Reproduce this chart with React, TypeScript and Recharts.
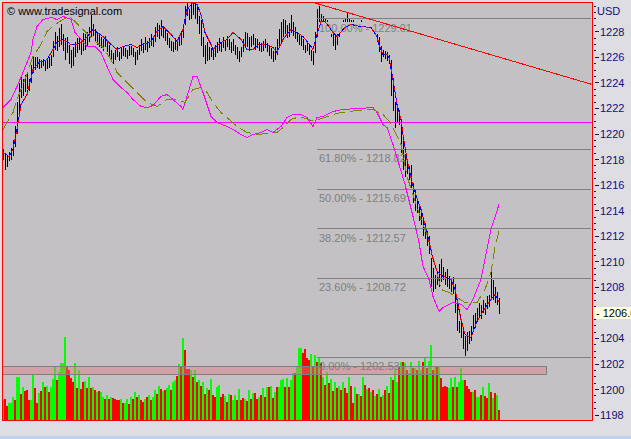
import {
  ComposedChart, Bar, Line, XAxis, YAxis, Cell, CartesianGrid,
  ReferenceLine, ReferenceArea,
} from 'recharts';

// one slot per 30 min bar, the right part of the axis is empty future time
const SLOTS = 295;

const lows = [
  1218.0, 1217.2, 1217.4, 1217.9, 1218.0, 1218.3, 1219.0, 1220.0, 1221.7, 1222.8,
  1223.0, 1223.3, 1223.5, 1223.4, 1224.0, 1224.8, 1225.0, 1225.2, 1225.1, 1225.2,
  1225.3, 1224.9, 1225.1, 1225.2, 1225.3, 1226.0, 1226.6, 1226.5, 1226.8, 1227.0,
  1226.5, 1225.8, 1226.3, 1225.5, 1225.2, 1225.3, 1226.0, 1226.3, 1226.6, 1226.2,
  1226.5, 1226.6, 1226.8, 1227.2, 1227.6, 1227.7, 1227.2, 1227.0, 1226.8, 1226.7,
  1226.5, 1226.8, 1226.4, 1226.0, 1225.8, 1225.5, 1225.8, 1226.0, 1225.7, 1225.9,
  1226.1, 1226.0, 1225.9, 1226.1, 1226.2, 1226.0, 1225.4, 1225.8, 1226.2, 1226.5,
  1226.3, 1226.6, 1226.4, 1226.7, 1226.9, 1226.8, 1227.2, 1227.6, 1227.4, 1227.7,
  1227.5, 1227.3, 1227.0, 1226.7, 1226.5, 1226.4, 1226.6, 1226.5, 1226.9, 1227.0,
  1227.5, 1228.5, 1229.2, 1228.9, 1229.0, 1229.3, 1229.0, 1228.6, 1227.8, 1226.9,
  1226.0, 1225.5, 1225.7, 1225.8, 1226.0, 1225.8, 1226.0, 1226.3, 1226.5, 1226.4,
  1226.7, 1226.5, 1226.8, 1226.6, 1226.3, 1226.5, 1226.2, 1225.9, 1225.6, 1226.0,
  1226.4, 1226.7, 1226.8, 1226.5, 1226.8, 1227.0, 1226.6, 1226.7, 1226.5, 1226.4,
  1226.5, 1226.7, 1226.4, 1226.1, 1225.9, 1225.6, 1225.8, 1226.2, 1226.9, 1227.3,
  1227.6, 1227.8, 1227.5, 1227.6, 1227.9, 1227.7, 1227.4, 1227.2, 1227.0, 1226.9,
  1226.6, 1226.3, 1226.5, 1226.2, 1225.7, 1225.4, 1226.3, 1227.6, 1228.2, 1228.4,
  1228.3, 1228.1, 1228.2, 1227.9, 1227.6, 1226.9, 1226.6, 1227.0, 1227.6, 1228.0,
  1228.1, 1228.2, 1228.4, 1228.3, 1228.1, 1228.2, 1228.1, 1228.0, 1228.1, 1228.2,
  1228.1, 1228.0, 1228.0, 1228.1, 1228.0, 1227.9, 1227.8, 1227.2, 1226.4, 1225.6,
  1226.0, 1225.9, 1225.7, 1225.5, 1223.0, 1221.8, 1220.5, 1220.9, 1220.7, 1218.5,
  1217.2, 1216.6, 1216.9, 1216.4, 1215.8, 1214.6, 1214.0, 1213.8, 1213.2, 1212.9,
  1212.0, 1211.8, 1211.2, 1210.6, 1208.0, 1207.6, 1207.9, 1208.2, 1208.0, 1208.4,
  1208.6, 1208.2, 1208.0, 1207.9, 1207.6, 1207.5, 1206.0, 1204.6, 1204.4, 1204.0,
  1203.2, 1202.6, 1203.0, 1203.6, 1203.8, 1204.5, 1204.8, 1205.3, 1205.6, 1205.5,
  1206.0, 1205.8, 1206.3, 1206.5, 1207.2, 1207.0, 1206.8, 1206.6, 1205.9,
];

const highs = [
  1218.8, 1218.5, 1218.3, 1218.6, 1218.9, 1219.5, 1220.6, 1222.5, 1224.0, 1224.5,
  1224.3, 1224.6, 1224.8, 1224.3, 1225.4, 1226.0, 1226.0, 1226.0, 1225.9, 1225.8,
  1225.9, 1225.7, 1225.8, 1226.0, 1226.2, 1227.3, 1228.0, 1227.7, 1228.3, 1228.6,
  1227.8, 1227.5, 1227.6, 1227.0, 1226.6, 1226.8, 1227.2, 1227.5, 1227.6, 1227.3,
  1227.9, 1227.8, 1228.0, 1228.4, 1229.3, 1228.6, 1228.2, 1228.0, 1227.9, 1227.6,
  1227.4, 1227.7, 1227.2, 1227.0, 1226.6, 1226.3, 1226.6, 1226.8, 1226.4, 1226.7,
  1226.8, 1226.7, 1226.6, 1226.9, 1226.9, 1226.7, 1226.4, 1226.6, 1227.0, 1227.4,
  1227.1, 1227.6, 1227.3, 1227.5, 1227.8, 1227.6, 1228.4, 1228.7, 1228.5, 1228.9,
  1228.4, 1228.2, 1227.9, 1227.5, 1227.3, 1227.2, 1227.5, 1227.2, 1227.6, 1227.9,
  1228.5, 1230.0, 1230.3, 1229.8, 1230.1, 1230.3, 1230.3, 1229.9, 1229.2, 1228.9,
  1227.6, 1227.0, 1227.2, 1226.8, 1226.7, 1226.6, 1227.0, 1227.2, 1227.5, 1227.2,
  1227.6, 1227.3, 1227.7, 1227.4, 1227.2, 1227.4, 1227.0, 1226.8, 1226.5, 1226.8,
  1227.4, 1228.0, 1227.9, 1227.6, 1227.7, 1227.8, 1227.5, 1227.4, 1227.2, 1227.1,
  1227.3, 1227.4, 1227.1, 1226.9, 1226.7, 1226.5, 1226.8, 1227.4, 1228.2, 1228.8,
  1229.0, 1228.9, 1228.5, 1228.7, 1229.3, 1228.8, 1228.4, 1228.0, 1227.8, 1227.7,
  1227.4, 1227.0, 1227.3, 1227.0, 1226.6, 1226.5, 1228.0, 1229.8, 1230.0, 1229.4,
  1229.2, 1229.0, 1228.9, 1228.7, 1228.5, 1228.2, 1227.8, 1228.0, 1228.4, 1228.8,
  1228.9, 1229.0, 1229.5, 1229.1, 1228.9, 1228.9, 1228.8, 1228.7, 1228.8, 1228.9,
  1228.8, 1228.7, 1228.6, 1228.7, 1228.6, 1228.5, 1228.4, 1228.1, 1227.6, 1226.9,
  1226.6, 1226.5, 1226.4, 1226.2, 1225.8, 1224.4, 1222.5, 1222.0, 1221.9, 1220.8,
  1219.5, 1218.4, 1218.0, 1217.5, 1217.6, 1216.2, 1215.6, 1215.0, 1214.5, 1213.9,
  1213.3, 1213.0, 1212.4, 1212.0, 1210.3, 1209.5, 1209.0, 1209.3, 1209.8, 1210.2,
  1209.6, 1209.2, 1209.4, 1208.9, 1208.7, 1208.8, 1208.3, 1206.6, 1205.4, 1205.2,
  1204.8, 1204.2, 1204.5, 1204.6, 1205.0, 1205.8, 1206.0, 1206.4, 1206.8, 1206.6,
  1207.0, 1206.8, 1207.3, 1207.4, 1209.2, 1208.6, 1208.0, 1207.6, 1207.2,
];

const volumes = [
  20, 21, 14, 17, 17, 23, 20, 43, 43, 26, 33, 29, 30, 20, 20, 46, 32, 17, 27, 29,
  38, 33, 34, 28, 33, 41, 53, 40, 48, 57, 57, 83, 54, 50, 42, 38, 57, 32, 50, 31,
  38, 39, 32, 43, 32, 33, 30, 28, 29, 28, 23, 21, 25, 21, 23, 22, 21, 20, 20, 21,
  17, 17, 21, 16, 23, 21, 28, 23, 25, 20, 18, 21, 23, 25, 20, 23, 30, 26, 34, 31,
  29, 30, 32, 35, 30, 38, 40, 44, 56, 53, 82, 70, 51, 51, 50, 43, 50, 38, 40, 34,
  38, 26, 32, 30, 41, 25, 23, 33, 35, 23, 26, 24, 18, 26, 25, 20, 25, 20, 31, 20,
  22, 21, 19, 30, 21, 27, 27, 21, 23, 25, 32, 23, 33, 33, 34, 22, 28, 33, 33, 40,
  41, 33, 42, 33, 40, 47, 47, 53, 72, 72, 67, 71, 62, 60, 66, 54, 65, 58, 63, 57,
  43, 35, 48, 37, 41, 29, 38, 32, 34, 30, 38, 32, 27, 43, 34, 17, 33, 26, 26, 24,
  43, 35, 31, 32, 28, 30, 24, 26, 31, 23, 25, 30, 34, 27, 43, 40, 50, 38, 53, 58,
  58, 57, 50, 47, 58, 52, 52, 50, 59, 50, 58, 62, 52, 59, 75, 50, 53, 53, 53, 42,
  33, 34, 33, 32, 42, 33, 43, 33, 38, 52, 40, 40, 34, 31, 28, 28, 30, 23, 23, 25,
  33, 24, 22, 37, 28, 22, 27, 25, 10,
];

// 1 = up bar (green), 0 = down bar (red)
const volUp = [
  1, 0, 0, 1, 1, 1, 0, 1, 1, 0, 1, 0, 0, 0, 1, 1, 0, 0, 1, 0,
  1, 0, 1, 0, 1, 1, 1, 0, 1, 1, 1, 1, 0, 0, 0, 0, 1, 0, 1, 0,
  0, 1, 0, 1, 0, 1, 0, 1, 0, 1, 1, 0, 1, 0, 1, 0, 0, 0, 0, 1,
  0, 1, 1, 0, 1, 0, 1, 0, 1, 0, 0, 1, 0, 1, 0, 1, 1, 0, 1, 0,
  1, 0, 1, 1, 0, 1, 1, 0, 1, 0, 1, 0, 0, 0, 1, 0, 1, 0, 1, 0,
  1, 0, 1, 0, 1, 0, 0, 1, 1, 0, 0, 1, 0, 1, 0, 1, 1, 0, 1, 0,
  0, 1, 0, 1, 0, 1, 0, 0, 1, 0, 1, 0, 1, 0, 1, 0, 1, 0, 1, 1,
  1, 0, 1, 0, 1, 1, 0, 1, 1, 1, 0, 0, 0, 0, 1, 0, 1, 0, 1, 0,
  1, 0, 1, 0, 1, 0, 1, 0, 1, 0, 1, 0, 0, 1, 0, 0, 1, 0, 1, 0,
  1, 0, 1, 0, 1, 0, 1, 0, 1, 0, 1, 0, 1, 0, 1, 0, 1, 1, 0, 1,
  0, 1, 0, 1, 1, 0, 1, 0, 1, 1, 0, 1, 0, 1, 1, 0, 1, 0, 1, 0,
  0, 0, 0, 1, 1, 0, 1, 0, 1, 1, 1, 0, 0, 0, 0, 1, 0, 1, 1, 0,
  1, 0, 0, 1, 0, 1, 0, 1, 0,
];

// [slot, value] points of the indicators
const maPts = [
  [0, 1218.56], [3, 1218.24], [5, 1218.79], [7, 1220.36], [9, 1222.31], [12, 1223.09],
  [15, 1225.05], [18, 1225.6], [22, 1225.83], [25, 1226.62], [27, 1227.16], [30, 1227.4],
  [34, 1227.01], [37, 1227.01], [41, 1227.4], [44, 1228.02], [45, 1228.18], [47, 1227.95],
  [50, 1227.63], [54, 1227.01], [57, 1226.62], [60, 1226.85], [64, 1227.01], [67, 1226.77],
  [70, 1227.01], [74, 1227.24], [77, 1228.02], [80, 1228.41], [84, 1227.79], [87, 1227.24],
  [90, 1228.18], [92, 1229.74], [95, 1230.29], [97, 1230.14], [99, 1229.35], [101, 1227.95],
  [104, 1227.01], [105, 1226.62], [109, 1227.16], [112, 1227.4], [115, 1227.95], [119, 1227.4],
  [122, 1226.62], [125, 1226.62], [128, 1227.01], [132, 1227.01], [135, 1226.77], [137, 1226.38],
  [140, 1227.4], [144, 1228.18], [147, 1227.95], [150, 1227.63], [154, 1226.85], [155, 1226.62],
  [157, 1227.79], [159, 1228.81], [161, 1228.81], [165, 1227.95], [167, 1227.63], [171, 1228.34],
  [174, 1228.57], [179, 1228.41], [184, 1228.34], [187, 1227.63], [188, 1227.01], [190, 1226.22],
  [192, 1226.22], [193, 1225.99], [195, 1224.27], [197, 1222.31], [199, 1221.14], [200, 1219.96],
  [202, 1218.01], [205, 1215.9], [209, 1214.1], [212, 1212.3], [215, 1210.19], [217, 1209.25],
  [220, 1208.86], [224, 1208.62], [226, 1207.84], [229, 1205.49], [231, 1204.32], [234, 1204.09],
  [237, 1205.34], [240, 1206.12], [244, 1207.06], [246, 1207.45], [248, 1206.9],
];

const oscPts = [
  [0, 1222.07], [4, 1222.7], [7, 1223.72], [10, 1224.82], [14, 1226.38], [15, 1227.4],
  [17, 1228.41], [20, 1228.96], [24, 1229.12], [27, 1228.96], [30, 1229.2], [34, 1228.96],
  [36, 1227.95], [39, 1227.4], [42, 1226.85], [46, 1226.85], [49, 1226.38], [52, 1225.28],
  [55, 1224.27], [59, 1223.64], [62, 1223.25], [65, 1222.7], [69, 1222.15], [72, 1222.07],
  [75, 1222.23], [79, 1222.94], [82, 1223.09], [85, 1222.7], [89, 1222.15], [90, 1221.92],
  [92, 1222.94], [95, 1224.5], [97, 1224.5], [100, 1223.25], [104, 1221.37], [107, 1220.9],
  [112, 1220.59], [115, 1220.36], [119, 1219.96], [122, 1219.73], [125, 1219.96], [129, 1220.12],
  [132, 1220.36], [135, 1220.12], [139, 1220.59], [142, 1221.29], [145, 1221.53], [149, 1221.53],
  [152, 1221.29], [155, 1220.59], [157, 1221.29], [160, 1221.37], [165, 1221.76], [170, 1221.92],
  [177, 1221.99], [185, 1222.07], [187, 1221.68], [190, 1220.74], [192, 1220.51], [195, 1219.18],
  [198, 1217.62], [201, 1216.06], [205, 1213.55], [208, 1211.51], [210, 1209.64], [213, 1208.62],
  [215, 1207.29], [218, 1206.12], [220, 1206.43], [225, 1206.82], [229, 1206.67], [232, 1206.27],
  [235, 1207.06], [239, 1208.62], [244, 1212.53], [248, 1214.49],
];

const sigPts = [
  [0, 1220.36], [5, 1221.68], [7, 1222.7], [11, 1224.27], [15, 1226.07], [19, 1227.01],
  [22, 1228.02], [26, 1228.57], [30, 1228.96], [33, 1229.2], [36, 1228.81], [40, 1228.18],
  [45, 1227.4], [50, 1226.77], [54, 1225.83], [57, 1224.82], [62, 1224.03], [67, 1223.25],
  [72, 1222.47], [77, 1222.15], [82, 1222.7], [87, 1222.7], [91, 1222.47], [95, 1223.48],
  [99, 1223.64], [102, 1223.25], [105, 1222.47], [109, 1221.68], [112, 1221.29], [117, 1220.59],
  [122, 1220.12], [127, 1219.96], [132, 1220.04], [137, 1220.12], [140, 1220.51], [144, 1221.14],
  [147, 1221.29], [150, 1221.29], [154, 1221.06], [158, 1221.14], [165, 1221.53], [169, 1221.68],
  [177, 1221.84], [185, 1221.92], [187, 1221.76], [190, 1221.53], [194, 1220.82], [199, 1219.18],
  [202, 1216.68], [205, 1215.27], [209, 1213.31], [212, 1212.14], [215, 1210.42], [219, 1207.84],
  [223, 1207.6], [227, 1207.21], [231, 1206.82], [237, 1206.82], [241, 1207.84], [244, 1209.17],
  [246, 1211.2], [248, 1212.37],
];

const fibLevels = [
  { pct: '100.00%', value: 1229.01 },
  { pct: '61.80%', value: 1218.82 },
  { pct: '50.00%', value: 1215.69 },
  { pct: '38.20%', value: 1212.57 },
  { pct: '23.60%', value: 1208.72 },
  { pct: '0.00%', value: 1202.53 },
];
const fibStart = 157;

const timeTicks: [number, string][] = [
  [0, ''], [5, ''], [14, '20:00'], [23, ''], [32, '29'], [36, ''], [45, ''], [54, '10:00'],
  [64, ''], [73, '20:00'], [91, 'Okt'], [95, ''], [104, ''], [114, '10:00'], [122, ''],
  [131, '20:00'], [140, ''], [150, '4'], [154, ''], [163, ''], [172, '10:00'], [181, ''],
  [190, '20:00'], [208, '5'], [211, ''], [221, ''], [231, '10:00'], [240, ''], [248, ''],
  [265, '20:00'],
];

const priceDomain = [1197.62, 1230.33];
const priceTicks = Array.from({ length: 65 }, (_, k) => 1198 + k * 0.5);
const lastPrice = 1206.0;
const oscLevel = 1220.93;
const zone = { from: 0, to: 271, low: 1201.16, high: 1201.79 };
const trend = [{ x: 155, y: 1230.3 }, { x: 294, y: 1223.9 }];

const NAVY = '#10107a';
const FONT = "'Liberation Sans', Arial, sans-serif";
const PLOT_BG = '#c3c1c4';

const rows = Array.from({ length: SLOTS }, (_, i) => ({
  i,
  hl: i < lows.length ? [lows[i], highs[i]] : null,
  vol: i < volumes.length ? volumes[i] : null,
  ma: null as number | null,
  osc: null as number | null,
  sig: null as number | null,
}));
maPts.forEach(([i, v]) => { rows[i].ma = v; });
oscPts.forEach(([i, v]) => { rows[i].osc = v; });
sigPts.forEach(([i, v]) => { rows[i].sig = v; });

const tickText = new Map(timeTicks);

const TimeTick = (props: any) => {
  const { x, y, payload } = props;
  const label = tickText.get(payload.value) || '';
  return (
    <g>
      {payload.value < volumes.length && (
        <line x1={x} x2={x} y1={y + 1} y2={y + (label ? 7 : 4)} stroke={NAVY} />
      )}
      {label && (
        <text x={x + 1} y={y + 19} fill={NAVY} fontSize={11} fontFamily={FONT}>{label}</text>
      )}
    </g>
  );
};

const PriceTick = (props: any) => {
  const { x, y, payload } = props;
  const v = payload.value;
  // the last price box takes the place of its own label
  if (v === lastPrice) return null;
  const major = v % 2 === 0 && v <= 1228;
  return (
    <g>
      <line x1={x + (major ? 3 : 2)} x2={x + (major ? 7 : 4)} y1={y} y2={y} stroke={NAVY} />
      {major && (
        <text x={x + 8} y={y + 4} fill={NAVY} fontSize={11} fontFamily={FONT}>{v}</text>
      )}
    </g>
  );
};

const FibLabel = (props: any) => {
  const { viewBox, text, solid } = props;
  return (
    <g>
      {solid && <rect x={viewBox.x + 1} y={viewBox.y + 3} width={92} height={12} fill={PLOT_BG} />}
      <text x={viewBox.x + 2} y={viewBox.y + 13} fill="#808080" fontSize={11} fontFamily={FONT}>{text}</text>
    </g>
  );
};

const LastLabel = (props: any) => {
  const { viewBox } = props;
  const left = viewBox.x + viewBox.width + 1;
  return (
    <g>
      <rect x={left} y={viewBox.y - 6} width={40} height={12} fill="#ffffe1" />
      <text x={left + 3} y={viewBox.y + 4} fill="#000" fontSize={11} fontFamily={FONT}>
        {'- ' + lastPrice.toFixed(1)}
      </text>
    </g>
  );
};

export default function App() {
  return (
    <div style={{ position: 'relative', width: 631, height: 439, background: '#dedde2', overflow: 'hidden' }}>
      <style>{'body{margin:0} .chart svg line, .chart svg path, .chart svg rect{shape-rendering:crispEdges}'}</style>
      <div className="chart">
        <ComposedChart width={631} height={439} data={rows} margin={{ top: 2, right: 0, bottom: 0, left: 0 }}>
          <CartesianGrid xAxisId="px" yAxisId="p" horizontal={false} vertical={false} fill={PLOT_BG} />
          <XAxis xAxisId="px" dataKey="i" type="category" hide />
          <XAxis
            xAxisId="vx" dataKey="i" type="category" height={19}
            ticks={timeTicks.map((t) => t[0])} interval={0}
            tick={<TimeTick />} tickLine={false} axisLine={false} tickSize={0} tickMargin={0}
          />
          <YAxis
            yAxisId="p" orientation="right" width={39} type="number"
            domain={priceDomain} allowDataOverflow ticks={priceTicks} interval={0}
            tick={<PriceTick />} tickLine={false} axisLine={false} tickSize={0} tickMargin={0}
          />
          <YAxis
            yAxisId="l" orientation="left" width={2} type="number" domain={priceDomain}
            ticks={Array.from({ length: 110 }, (_, k) => 1197.7 + k * 0.3)} interval={0}
            tick={false} tickLine={{ stroke: NAVY }} tickSize={2} axisLine={false}
          />
          <YAxis yAxisId="v" hide domain={[0, 418]} />

          <Bar xAxisId="vx" yAxisId="v" dataKey="vol" barSize={2} isAnimationActive={false}>
            {rows.map((r) => (
              <Cell key={r.i} fill={volUp[r.i] ? '#00ff00' : '#ff0000'} />
            ))}
          </Bar>

          <ReferenceArea
            xAxisId="px" yAxisId="p" x1={zone.from} x2={zone.to} y1={zone.low} y2={zone.high}
            fill="#e07a84" fillOpacity={0.45} stroke="#808080" zIndex={350}
          />

          {fibLevels.map((f, k) => (
            <ReferenceLine
              key={f.pct} xAxisId="px" yAxisId="p" stroke="#808080" zIndex={360}
              segment={[{ x: fibStart, y: f.value }, { x: SLOTS - 1, y: f.value }]}
              label={<FibLabel text={`${f.pct} - ${f.value.toFixed(2)}`} solid={k === 0} />}
            />
          ))}

          <ReferenceLine xAxisId="px" yAxisId="p" y={oscLevel} stroke="#ff00ff" zIndex={360} />

          <Bar xAxisId="px" yAxisId="p" dataKey="hl" fill="#000" barSize={1} isAnimationActive={false} />

          <Line xAxisId="px" yAxisId="p" dataKey="osc" type="linear" stroke="#ff00ff" strokeWidth={1}
            dot={false} activeDot={false} connectNulls isAnimationActive={false} />
          <Line xAxisId="px" yAxisId="p" dataKey="sig" type="linear" stroke="#808000" strokeWidth={1}
            strokeDasharray="12 5" dot={false} activeDot={false} connectNulls isAnimationActive={false} />
          <Line xAxisId="px" yAxisId="p" dataKey="ma" type="linear" stroke="#ff0000" strokeWidth={1}
            strokeDasharray="3 3" dot={false} activeDot={false} connectNulls isAnimationActive={false} />
          <Line xAxisId="px" yAxisId="p" dataKey="ma" type="linear" stroke="#0000ff" strokeWidth={1}
            strokeDasharray="0 3 3 0" dot={false} activeDot={false} connectNulls isAnimationActive={false} />

          <ReferenceLine xAxisId="px" yAxisId="p" segment={trend} stroke="#ff0000" ifOverflow="hidden" zIndex={500} />

          <ReferenceLine xAxisId="px" yAxisId="p" y={lastPrice} stroke="none" label={<LastLabel />} zIndex={700} />

          <ReferenceArea
            xAxisId="px" yAxisId="p" x1={0} x2={SLOTS - 1} y1={priceDomain[0]} y2={priceDomain[1]}
            fill="none" stroke="#ff0000" ifOverflow="visible" zIndex={600}
          />
        </ComposedChart>
      </div>
      <div style={{ position: 'absolute', left: 7, top: 5, font: `11px ${FONT}`, color: '#000' }}>
        © www.tradesignal.com
      </div>
      <div style={{ position: 'absolute', left: 597, top: 5, font: `11px ${FONT}`, color: NAVY }}>USD</div>
      <div style={{ position: 'absolute', left: 0, top: 436, width: 631, height: 3, background: '#bcd2ee' }} />
    </div>
  );
}
